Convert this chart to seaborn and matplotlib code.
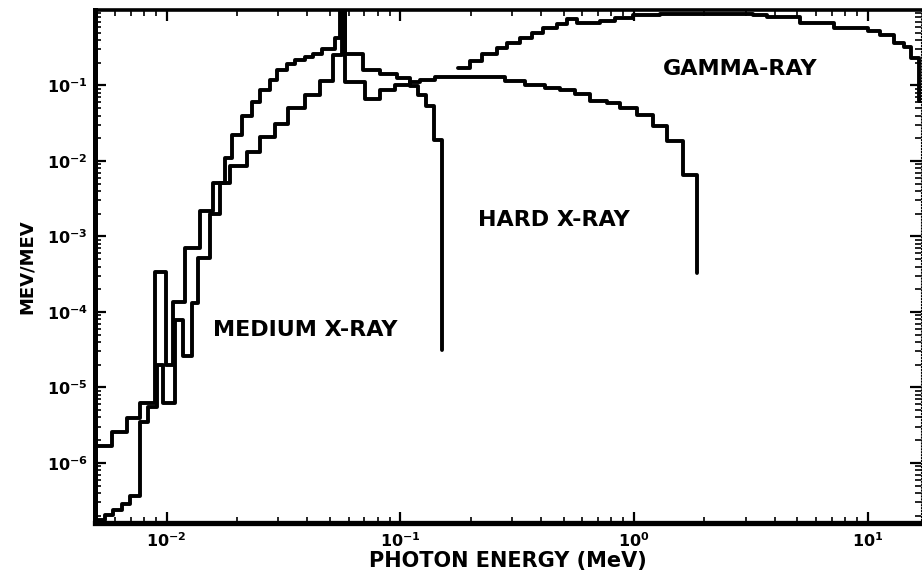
import numpy as np
import pandas as pd
import matplotlib
matplotlib.use('Agg')
import matplotlib.pyplot as plt
import seaborn as sns
from matplotlib.ticker import LogLocator, NullFormatter

# bin edges (MeV) and spectrum values (MeV/MeV)
medium_edges = [0.00493, 0.00583, 0.00676, 0.00769, 0.00891, 0.00993, 0.01064, 0.01198,
                0.01389, 0.01580, 0.01778, 0.01904, 0.02101, 0.02317, 0.02510, 0.02767,
                0.02965, 0.03272, 0.03541, 0.03906, 0.04233, 0.04624, 0.05256, 0.05521,
                0.05804, 0.06934, 0.08196, 0.0969, 0.1102, 0.1192, 0.1290, 0.1396, 0.1510]
medium_vals = [1.68e-6, 2.57e-6, 3.94e-6, 6.2e-6, 3.4e-4, 2.0e-5, 1.35e-4, 7.0e-4,
               2.2e-3, 5.1e-3, 1.08e-2, 2.2e-2, 3.9e-2, 6.0e-2, 8.8e-2, 0.12,
               0.158, 0.195, 0.22, 0.24, 0.265, 0.30, 0.43, 1.0,
               0.265, 0.158, 0.14, 0.124, 0.097, 0.074, 0.054, 0.0187]
medium_end = 3.1e-5

hard_edges = [0.00493, 0.005442, 0.00589, 0.00644, 0.00697, 0.00769, 0.00832, 0.00909,
              0.00964, 0.01086, 0.01175, 0.01283, 0.01361, 0.01535, 0.01691, 0.01867,
              0.02206, 0.02510, 0.02908, 0.03308, 0.03906, 0.04536, 0.05152, 0.05633,
              0.05804, 0.07065, 0.08196, 0.09500, 0.1102, 0.1216, 0.1409, 0.1634,
              0.2197, 0.2811, 0.3424, 0.4170, 0.4834, 0.5605, 0.6498, 0.7686,
              0.8737, 1.033, 1.210, 1.388, 1.626, 1.867]
hard_vals = [1.76e-7, 2.05e-7, 2.39e-7, 2.87e-7, 3.66e-7, 3.5e-6, 5.5e-6, 2.0e-5,
             6.2e-6, 7.8e-5, 2.6e-5, 1.3e-4, 5.2e-4, 2.0e-3, 5.1e-3, 8.7e-3,
             1.3e-2, 2.05e-2, 3.1e-2, 4.96e-2, 7.4e-2, 0.116, 0.25, 1.0,
             0.11, 0.067, 0.086, 0.10, 0.11, 0.12, 0.128, 0.131,
             0.128, 0.116, 0.10, 0.094, 0.086, 0.078, 0.063, 0.058,
             0.05, 0.041, 0.0287, 0.0182, 0.0066]
hard_end = 3.3e-4

gamma_edges = [0.1768, 0.1990, 0.2240, 0.2599, 0.2868, 0.3261, 0.3668, 0.4089, 0.4693,
               0.5180, 0.5718, 0.7173, 0.8316, 0.9931, 1.296, 3.243, 3.723, 5.155,
               7.139, 9.98, 11.34, 12.90, 14.24, 15.25, 16.51, 18.6]
gamma_vals = [0.173, 0.214, 0.265, 0.31, 0.37, 0.43, 0.50, 0.58, 0.66,
              0.77, 0.68, 0.72, 0.79, 0.85, 0.89, 0.85, 0.81, 0.68,
              0.58, 0.52, 0.46, 0.37, 0.32, 0.23, 0.063]

y_ticks = [1e-6, 1e-5, 1e-4, 1e-3, 1e-2, 1e-1]
x_ticks = [1e-2, 1e-1, 1e0, 1e1]

sns.set_style('ticks')
plt.rcParams['font.family'] = ['DejaVu Sans']
plt.rcParams['font.weight'] = 'bold'
plt.rcParams['text.color'] = 'black'
plt.rcParams['axes.labelcolor'] = 'black'
plt.rcParams['xtick.color'] = 'black'
plt.rcParams['ytick.color'] = 'black'

fig = plt.figure(figsize=(9.22, 5.75), dpi=100)
ax = fig.add_axes([0.103, 0.0904, 0.8959, 0.8922])


def draw_steps(edges, vals, tail):
    # last point gives the vertical drop at the final edge
    df = pd.DataFrame({'energy': edges, 'value': list(vals) + [tail]})
    sns.lineplot(data=df, x='energy', y='value', drawstyle='steps-post',
                 color='black', lw=2.8, estimator=None, sort=False, ax=ax)


draw_steps(medium_edges, medium_vals, medium_end)
draw_steps(hard_edges, hard_vals, hard_end)
draw_steps(gamma_edges, gamma_vals, gamma_vals[-1])

ax.set_xscale('log')
ax.set_yscale('log')
ax.set_xlim(0.00493, 16.9)
ax.set_ylim(1.6e-7, 1.0)
ax.set_xticks(x_ticks)
ax.set_yticks(y_ticks)
ax.xaxis.set_minor_locator(LogLocator(base=10, subs=np.arange(2, 10)))
ax.yaxis.set_minor_locator(LogLocator(base=10, subs=np.arange(2, 10)))
ax.xaxis.set_minor_formatter(NullFormatter())
ax.yaxis.set_minor_formatter(NullFormatter())

ax.tick_params(which='both', direction='in', top=True, right=True,
               color='black', labelcolor='black')
ax.tick_params(which='major', length=8, width=1.6, labelsize=11.5)
ax.tick_params(which='minor', length=4.5, width=1.2)
ax.tick_params(axis='x', which='major', pad=6)
ax.tick_params(axis='y', which='major', pad=5)
for lab in ax.get_xticklabels() + ax.get_yticklabels():
    lab.set_fontweight('bold')

for side, lw in [('left', 3.6), ('bottom', 3.8), ('top', 2.6), ('right', 0.8)]:
    ax.spines[side].set_linewidth(lw)
    ax.spines[side].set_color('black')
ax.spines['right'].set_linestyle(':')

ax.set_xlabel('PHOTON ENERGY (MeV)', fontsize=15, fontweight='bold', labelpad=1)
ax.set_ylabel('MEV/MEV', fontsize=13, fontweight='bold', labelpad=8)

ax.text(2.85, 0.163, 'GAMMA-RAY', fontsize=16, fontweight='bold', ha='center', va='center')
ax.text(0.4534, 1.64e-3, 'HARD X-RAY', fontsize=16, fontweight='bold', ha='center', va='center')
ax.text(0.0393, 5.74e-5, 'MEDIUM X-RAY', fontsize=16, fontweight='bold', ha='center', va='center')

fig.savefig('out.png', dpi=100)
